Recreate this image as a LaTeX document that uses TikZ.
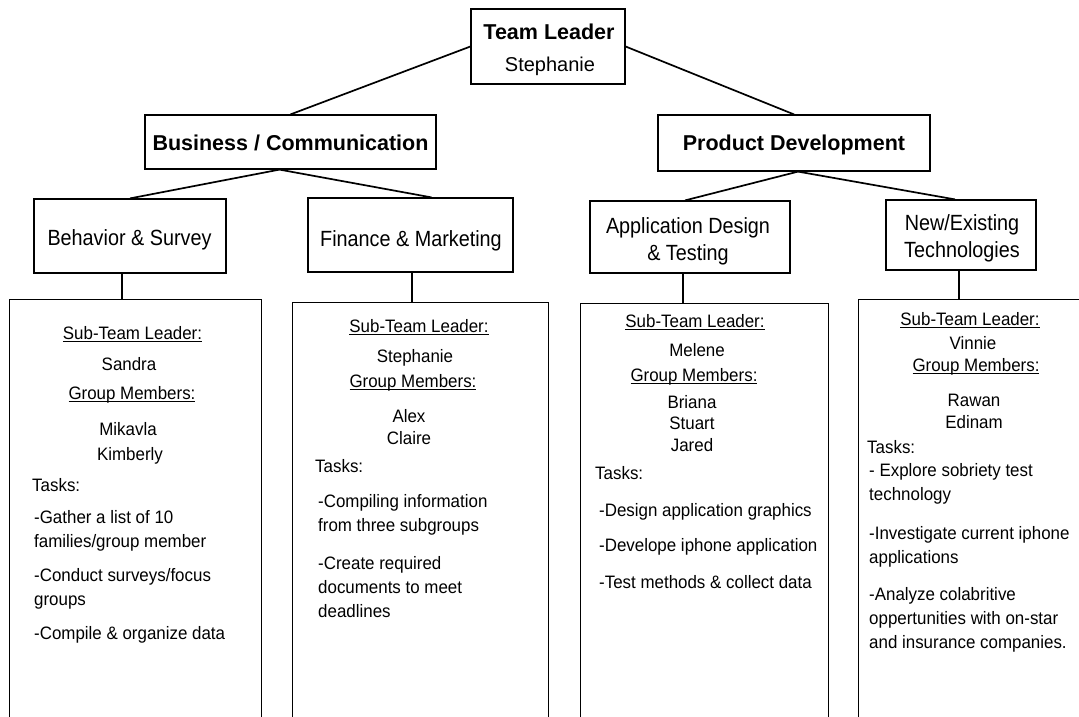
\documentclass[tikz,border=0pt]{standalone}
\usepackage{fontspec}
\setmainfont{Liberation Sans}
\newfontfamily\bodyfont[FakeStretch=0.94]{Liberation Sans}
\newfontfamily\condfont[FakeStretch=0.9]{Liberation Sans}
\newcommand\myul[1]{\setbox0\hbox{#1}\rlap{\rule[-2.5pt]{\wd0}{0.9pt}}\box0}
\begin{document}
\begin{tikzpicture}[x=1pt,y=-1pt,
  hbox/.style={draw=black,line width=1.2pt,inner sep=0pt,fill=white},
  bigbox/.style={draw=black,line width=1pt,inner sep=0pt,minimum height=440pt},
  conn/.style={draw=black,line width=1.7pt},
  htxt/.style={inner sep=0pt,align=center,font={\fontsize{21.5}{27}\selectfont\bfseries}},
  stxt/.style={inner sep=0pt,align=center,font={\condfont\fontsize{22}{27}\selectfont}},
  body/.style={inner sep=0pt,font={\bodyfont\fontsize{18}{24}\selectfont}},
  bl/.style={body,anchor=west,align=left},
  bc/.style={body,anchor=center,align=center}]
\useasboundingbox (0,0) rectangle (1079,717);
\clip (0,0) rectangle (1079,717);
\fill[white] (0,0) rectangle (1079,717);

% big boxes
\node[bigbox,minimum width=252pt] (b1) at (135,519) {};
\node[bigbox,minimum width=256pt] (b2) at (420,522) {};
\node[bigbox,minimum width=248pt] (b3) at (704,523) {};
\node[bigbox,minimum width=232pt] (b4) at (974,519) {};

% header boxes
\node[hbox,minimum width=154pt,minimum height=75pt] (tl) at (548,46.5) {};
\node[htxt] (tlt) at (549,32) {Team Leader};
\node[inner sep=0pt,font={\fontsize{20}{24}\selectfont}] (tln) at (550,66) {Stephanie};
\node[hbox,minimum width=291pt,minimum height=54pt] (bcm) at (290.5,142) {};
\node[htxt] (bcmt) at (290.5,143) {Business / Communication};
\node[hbox,minimum width=272pt,minimum height=56pt] (pd) at (794,143) {};
\node[htxt] (pdt) at (794,145) {Product Development};
\node[hbox,minimum width=192pt,minimum height=74pt] (bs) at (130,236) {};
\node[stxt] (bst) at (129.5,240) {Behavior \& Survey};
\node[hbox,minimum width=205pt,minimum height=74pt] (fm) at (410.5,235) {};
\node[stxt] (fmt) at (411,241) {Finance \& Marketing};
\node[hbox,minimum width=200pt,minimum height=72pt] (ad) at (690,237) {};
\node[stxt] (adt) at (688,241.5) {Application Design\\\& Testing};
\node[hbox,minimum width=150pt,minimum height=70pt] (ne) at (961,235) {};
\node[stxt] (net) at (962,238.5) {New/Existing\\Technologies};

% connectors
\draw[conn] (tl.west) -- (bcm.north);
\draw[conn] (tl.east) -- (pd.north);
\draw[conn] ([xshift=-11pt]bcm.south) -- (bs.north);
\draw[conn] ([xshift=-11pt]bcm.south) -- ([xshift=21pt]fm.north);
\draw[conn] ([xshift=4pt]pd.south) -- ([xshift=-5pt]ad.north);
\draw[conn] ([xshift=4pt]pd.south) -- ([xshift=-6pt]ne.north);
\draw[conn] ([xshift=-8pt]bs.south) -- ([xshift=-8pt]bs.south |- b1.north);
\draw[conn] ([xshift=1.5pt]fm.south) -- ([xshift=1.5pt]fm.south |- b2.north);
\draw[conn] ([xshift=-7pt]ad.south) -- ([xshift=-7pt]ad.south |- b3.north);
\draw[conn] ([xshift=-2pt]ne.south) -- ([xshift=-2pt]ne.south |- b4.north);

% box 1
\node[bc] (s1) at (132.5,334) {\myul{Sub-Team Leader:}};
\node[bc] (l1) at (129,364) {Sandra};
\node[bc] (g1) at (132,395) {\myul{Group Members:}};
\node[bc] (m1a) at (128,429) {Mikavla};
\node[bc] (m1b) at (130,456) {Kimberly};
\node[bl] (k1) at (32,485) {Tasks:};
\node[bl] (t1a) at (34,530.5) {-Gather a list of 10\\families/group member};
\node[bl] (t1b) at (34,588.5) {-Conduct surveys/focus\\groups};
\node[bl] (t1c) at (34,635) {-Compile \& organize data};

% box 2
\node[bc] (s2) at (419,327) {\myul{Sub-Team Leader:}};
\node[bc] (l2) at (415,358) {Stephanie};
\node[bc] (g2) at (413,383) {\myul{Group Members:}};
\node[bc] (m2a) at (409,416) {Alex};
\node[bc] (m2b) at (409,438) {Claire};
\node[bl] (k2) at (315,466) {Tasks:};
\node[bl] (t2a) at (318,515) {-Compiling information\\from three subgroups};
\node[bl] (t2b) at (318,587) {-Create required\\documents to meet\\deadlines};

% box 3
\node[bc] (s3) at (695,322) {\myul{Sub-Team Leader:}};
\node[bc] (l3) at (697,350) {Melene};
\node[bc] (g3) at (694,377) {\myul{Group Members:}};
\node[bc] (m3a) at (692,402) {Briana};
\node[bc] (m3b) at (692,423) {Stuart};
\node[bc] (m3c) at (692,445) {Jared};
\node[bl] (k3) at (595,473) {Tasks:};
\node[bl] (t3a) at (599,512) {-Design application graphics};
\node[bl] (t3b) at (599,547) {-Develope iphone application};
\node[bl] (t3c) at (599,582) {-Test methods \& collect data};

% box 4
\node[bc] (s4) at (970,320) {\myul{Sub-Team Leader:}};
\node[bc] (l4) at (973,343) {Vinnie};
\node[bc] (g4) at (976,367) {\myul{Group Members:}};
\node[bc] (m4a) at (974,400) {Rawan};
\node[bc] (m4b) at (974,422) {Edinam};
\node[bl] (k4) at (867,447) {Tasks:};
\node[bl] (t4a) at (869,484) {- Explore sobriety test\\technology};
\node[bl] (t4b) at (869,547) {-Investigate current iphone\\applications};
\node[bl] (t4c) at (869,620) {-Analyze colabritive\\oppertunities with on-star\\and insurance companies.};
\end{tikzpicture}
\end{document}
